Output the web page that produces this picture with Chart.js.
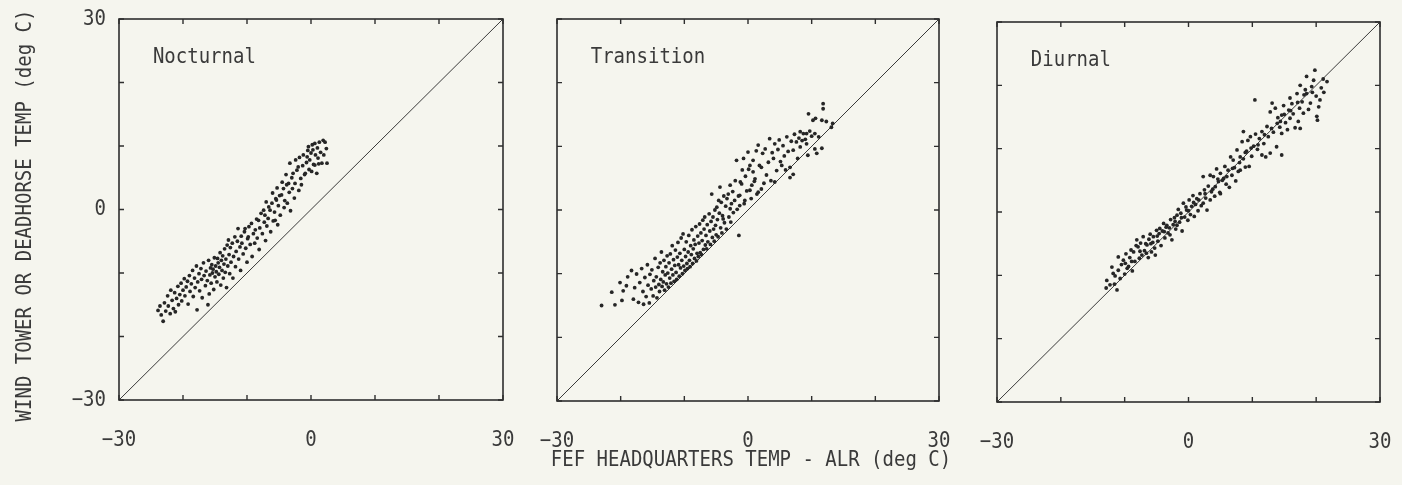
<!DOCTYPE html>
<html>
<head>
<meta charset="utf-8">
<script src="https://cdn.jsdelivr.net/npm/chart.js@4.4.0/dist/chart.umd.min.js"></script>
<style>
  html, body { margin: 0; padding: 0; background: #f5f5ee; }
  #wrap { position: relative; width: 1402px; height: 485px; }
  #wrap canvas { position: absolute; left: 0; top: 0; }
</style>
</head>
<body>
<div id="wrap">
  <canvas id="nocturnal" width="1402" height="485"></canvas>
  <canvas id="transition" width="1402" height="485"></canvas>
  <canvas id="diurnal" width="1402" height="485"></canvas>
</div>
<script>
// axis range, tick marks and the few labelled ticks
const axisMin = -30;
const axisMax = 30;
const tickValues = [-30, -20, -10, 0, 10, 20, 30];
const labelledTicks = [-30, 0, 30];
const tickLabels = ['\u221230', '0', '30'];

const panelNames = ['Nocturnal', 'Transition', 'Diurnal'];
const xTitle = 'FEF HEADQUARTERS TEMP - ALR (deg C)';
const yTitle = 'WIND TOWER OR DEADHORSE TEMP (deg C)';

// [headquarters temp - ALR, wind tower / deadhorse temp]
const nocturnalPts = [
  [-23.9,-15.9],[-23.6,-15.2],[-23.4,-16.6],[-23.1,-17.6],[-22.9,-14.7],[-22.7,-16.0],[-22.4,-13.6],[-22.3,-15.2],
  [-22.0,-16.4],[-21.9,-12.7],[-21.7,-14.3],[-21.5,-15.6],[-21.3,-13.1],[-21.2,-16.1],[-21.0,-14.0],[-20.8,-12.1],
  [-20.7,-15.0],[-20.5,-13.4],[-20.3,-11.6],[-20.2,-14.4],[-20.0,-12.7],
  [-19.8,-10.9],[-19.7,-13.6],[-19.5,-12.2],[-19.3,-11.3],[-19.2,-14.9],[-19.0,-10.4],[-18.9,-12.9],[-18.7,-11.7],
  [-18.5,-9.6],[-18.4,-13.7],[-18.2,-10.8],[-18.1,-12.3],[-17.9,-8.9],[-17.8,-15.8],[-17.7,-11.4],[-17.5,-10.1],
  [-17.4,-12.8],[-17.2,-9.3],[-17.1,-11.0],[-17.0,-13.9],[-16.8,-8.4],[-16.7,-10.4],[-16.5,-12.0],[-16.4,-9.7],
  [-16.2,-11.2],[-16.1,-15.0],[-16.0,-8.0],[-15.9,-13.3],[-15.8,-10.3],
  [-15.7,-9.2],[-15.6,-11.6],[-15.5,-8.7],[-15.4,-10.0],[-15.3,-9.4],[-15.2,-12.6],[-15.1,-7.6],[-15.0,-10.6],
  [-14.9,-8.9],[-14.8,-9.8],[-14.7,-11.4],[-14.6,-7.7],[-14.5,-8.4],[-14.4,-10.2],[-14.3,-9.1],[-14.2,-6.8],
  [-14.1,-11.9],[-14.0,-8.0],[-13.9,-9.6],[-13.8,-7.3],[-13.7,-10.8],[-13.6,-8.6],[-13.5,-6.2],[-13.4,-9.9],
  [-13.3,-7.8],[-13.2,-12.3],[-13.1,-5.6],[-13.0,-8.9],
  [-12.9,-4.8],[-12.8,-7.1],[-12.7,-10.1],[-12.6,-6.0],[-12.5,-8.3],[-12.3,-5.3],[-12.2,-10.8],[-12.1,-7.4],
  [-11.9,-4.3],[-11.8,-9.0],[-11.7,-6.6],[-11.5,-5.0],[-11.4,-3.0],[-11.3,-7.8],[-11.1,-5.9],[-11.0,-9.6],
  [-10.9,-4.2],[-10.8,-5.3],[-10.6,-7.0],[-10.4,-3.5],[-10.3,-3.0],[-10.2,-6.1],[-10.0,-8.3],[-9.9,-4.6],
  [-9.8,-4.3],[-9.7,-2.7],[-9.5,-5.5],[-9.3,-2.2],[-9.2,-7.4],[-9.0,-3.8],
  [-8.8,-5.3],[-8.7,-3.2],[-8.5,-1.5],[-8.4,-4.5],[-8.2,-1.7],[-8.1,-6.3],[-8.0,-2.9],[-7.8,-0.6],
  [-7.6,-3.8],[-7.4,-0.1],[-7.3,-2.0],[-7.2,-0.9],[-7.1,-4.9],[-7.0,1.2],[-6.9,-2.6],[-6.7,-1.4],
  [-6.6,0.4],[-6.4,-0.1],[-6.3,-3.5],[-6.1,1.0],[-6.0,2.6],[-5.9,-1.8],[-5.7,-0.4],[-5.6,-1.7],
  [-5.5,1.7],[-5.4,1.5],[-5.3,3.4],[-5.2,-2.4],[-5.1,0.6],
  [-4.9,2.2],[-4.8,-0.9],[-4.6,2.3],[-4.5,4.3],[-4.3,3.3],[-4.2,0.3],[-4.1,1.4],[-3.9,5.5],
  [-3.8,3.9],[-3.7,1.0],[-3.5,4.1],[-3.4,2.7],[-3.3,7.3],[-3.2,-0.2],[-3.0,5.0],[-2.9,3.3],
  [-2.8,5.7],[-2.6,1.8],[-2.5,4.1],[-2.4,7.8],[-2.2,6.2],[-2.0,6.7],[-1.9,3.0],[-1.8,8.2],
  [-1.6,4.9],[-1.5,3.9],[-1.3,6.9],[-1.2,8.6],[-1.0,5.5],[-0.9,5.7],
  [-0.7,7.4],[-0.6,8.3],[-0.5,9.3],[-0.4,9.9],[-0.3,6.3],[-0.2,7.8],[0.0,8.9],[0.1,6.0],
  [0.2,10.2],[0.3,9.4],[0.4,7.1],[0.6,10.4],[0.6,7.0],[0.7,8.6],[0.9,5.7],[1.0,9.7],
  [1.1,8.1],[1.2,7.2],[1.3,10.6],[1.5,9.0],[1.7,7.3],[1.9,10.9],[2.0,8.6],[2.2,10.6],
  [2.5,7.3],[2.4,9.6]
];

const transitionPts = [
  [-23.0,-15.0],[-20.9,-14.9],[-21.4,-12.9],[-20.1,-11.4],[-19.6,-12.7],[-19.1,-11.9],[-19.8,-14.2],[-18.3,-9.5],
  [-18.9,-10.5],[-17.5,-10.05],[-18.0,-14.0],[-17.2,-14.5],[-16.4,-14.8],[-17.8,-12.2],[-17.0,-11.4],[-16.7,-9.2],
  [-16.5,-12.8],[-16.2,-10.6],[-16.0,-13.6],[-15.8,-8.6],[-15.7,-11.8],[-15.5,-14.6],[-15.4,-10.1],[-15.2,-12.4],
  [-15.1,-9.4],[-14.9,-13.5],[-14.8,-11.1],[-14.6,-7.6],[-14.5,-12.1],[-14.4,-10.5],[-14.3,-13.8],[-14.1,-9.0],
  [-14.0,-11.7],[-13.9,-12.8],[-13.8,-8.3],[-13.7,-10.9],[-13.6,-6.6],[-13.5,-12.0],[-13.4,-9.7],[-13.3,-11.3],
  [-13.2,-7.9],[-13.1,-12.6],[-13.0,-10.2],[-12.9,-8.9],[-12.8,-11.6],[-12.7,-7.2],[-12.6,-9.9],[-12.5,-12.1],
  [-12.4,-8.3],[-12.3,-10.7],[-12.2,-6.9],[-12.1,-11.5],[-12.0,-9.3],[-11.9,-5.6],[-11.8,-10.2],[-11.7,-7.8],
  [-11.6,-11.2],[-11.5,-8.7],[-11.4,-6.3],[-11.3,-9.8],[-11.2,-10.9],[-11.1,-7.4],[-11.0,-5.1],[-10.9,-8.6],
  [-10.8,-10.4],[-10.7,-6.8],[-10.6,-9.1],[-10.5,-4.4],[-10.4,-7.9],[-10.3,-10.0],[-10.2,-3.75],[-10.1,-8.8],
  [-10.0,-6.2],[-9.9,-9.5],[-9.8,-7.3],[-9.7,-5.0],[-9.6,-8.4],[-9.5,-9.2],[-9.4,-6.6],[-9.3,-4.0],
  [-9.2,-7.9],[-9.1,-8.9],[-9.0,-5.6],[-8.9,-7.0],[-8.8,-3.1],[-8.7,-8.4],[-8.6,-6.1],[-8.5,-4.7],
  [-8.4,-7.6],[-8.3,-5.4],[-8.2,-2.6],[-8.1,-8.0],[-8.0,-6.8],[-7.9,-4.1],[-7.8,-7.3],[-7.7,-5.2],
  [-7.6,-2.2],[-7.5,-6.7],[-7.4,-3.6],[-7.3,-7.0],[-7.2,-4.8],[-7.1,-1.6],[-7.0,-6.2],[-6.9,-3.0],
  [-6.8,-1.1],[-6.7,-5.5],[-6.6,-4.0],[-6.5,-6.1],[-6.4,-2.3],[-6.3,-5.0],[-6.1,-0.6],[-6.0,-3.3],
  [-5.9,-5.4],[-5.8,-1.8],[-5.7,2.5],[-5.6,-4.3],[-5.5,-1.1],[-5.4,-3.0],[-5.3,-4.9],[-5.2,0.0],
  [-5.1,-2.4],[-5.0,-3.9],[-4.9,0.45],[-4.8,-1.5],[-4.7,-4.2],[-4.6,1.5],[-4.5,-0.5],[-4.4,3.6],
  [-4.3,-2.8],[-4.2,1.2],[-4.1,-3.6],[-4.0,-0.9],[-3.9,-1.4],[-3.8,2.2],[-3.7,-2.0],[-3.5,0.6],
  [-3.4,-3.0],[-3.3,1.8],[-3.1,2.5],[-3.0,-1.1],[-2.8,3.9],[-2.8,0.2],[-2.7,-1.9],[-2.6,1.0],
  [-2.4,2.9],[-2.3,-0.4],[-2.1,1.5],[-2.0,4.6],[-1.8,7.8],[-1.7,0.1],[-1.5,2.2],[-1.43,-4.0],
  [-1.3,2.3],[-1.3,0.7],[-1.2,4.4],[-1.0,4.1],[-0.9,6.3],[-0.7,8.1],[-0.6,1.0],[-0.5,1.5],
  [-0.4,5.3],[-0.2,3.0],[0.0,9.1],[0.1,6.4],[0.3,3.1],[0.3,7.0],[0.5,1.8],[0.6,3.9],
  [0.8,7.8],[0.8,6.0],[1.0,4.5],[1.1,4.9],[1.3,9.3],[1.4,2.5],[1.6,10.2],[1.6,2.8],
  [1.8,7.0],[2.1,6.7],[2.1,3.3],[2.3,8.9],[2.5,4.2],[2.7,9.6],[2.9,5.5],[3.2,7.5],
  [3.4,11.2],[3.6,4.6],[3.8,9.0],[4.0,8.1],[4.2,10.4],[4.2,4.4],[4.5,6.2],[4.7,9.5],
  [4.9,11.0],[5.1,7.6],[5.3,7.0],[5.5,10.1],[5.7,8.5],[5.9,6.3],[6.1,11.5],[6.3,9.2],
  [6.6,6.7],[6.6,5.1],[6.8,10.8],[7.1,5.6],[7.1,9.4],[7.3,11.9],[7.6,10.7],[7.8,8.1],
  [8.0,11.3],[8.2,12.3],[8.2,9.9],[8.5,10.9],[8.7,12.0],[9.0,11.1],[9.2,12.0],[9.2,10.4],
  [9.4,8.6],[9.5,15.1],[9.7,12.4],[10.0,11.6],[10.2,14.1],[10.5,12.0],[10.5,9.6],[10.6,14.4],
  [10.8,8.9],[11.1,11.5],[11.6,14.1],[11.6,9.7],[11.8,16.7],[11.8,15.9],[12.3,13.9],[13.1,13.0],
  [13.3,13.6]
];

const diurnalPts = [
  [-12.8,-10.8],[-12.3,-11.5],[-12.9,-12.0],[-12.0,-8.7],[-11.8,-9.7],[-11.6,-11.4],[-11.2,-12.3],[-11.0,-9.2],
  [-11.0,-7.1],[-10.7,-10.5],[-10.5,-8.3],[-10.2,-7.6],[-10.0,-9.8],[-9.8,-6.6],[-9.6,-8.9],[-9.4,-8.6],
  [-9.2,-7.2],[-9.0,-6.0],[-8.8,-9.3],[-8.6,-6.3],[-8.4,-7.8],[-8.2,-5.3],[-8.1,-4.4],[-7.9,-5.5],
  [-7.7,-7.3],[-7.5,-4.9],[-7.3,-6.8],[-7.1,-3.9],[-6.9,-6.1],[-6.7,-5.0],[-6.5,-5.2],[-6.3,-7.2],
  [-6.2,-4.3],[-6.0,-3.5],[-5.8,-6.3],[-5.6,-4.8],[-5.5,-3.9],[-5.3,-5.7],[-5.2,-6.8],[-5.0,-2.9],
  [-4.8,-4.6],[-4.6,-3.4],[-4.5,-2.6],[-4.3,-5.3],[-4.1,-3.0],[-3.9,-1.8],[-3.7,-4.1],[-3.5,-2.4],
  [-3.4,-2.1],[-3.2,-3.3],[-2.9,-3.6],[-2.8,-1.2],[-2.6,-4.4],[-2.4,-2.0],[-2.2,-0.9],[-2.0,-2.7],
  [-1.8,-2.1],[-1.8,-0.5],[-1.6,0.4],[-1.4,-1.6],[-1.2,-0.2],[-1.0,-3.0],[-0.8,1.4],[-0.6,-0.8],
  [-0.4,0.8],[-0.3,0.3],[-0.1,-1.3],[0.1,1.9],[0.3,-0.4],[0.5,0.9],[0.7,2.6],[0.9,-0.7],
  [1.1,1.2],[1.3,2.1],[1.5,0.2],[1.8,2.9],[2.0,1.0],[2.3,1.4],[2.3,5.6],[2.5,3.5],
  [2.7,2.2],[2.9,0.3],[3.1,4.1],[3.4,1.9],[3.4,5.8],[3.6,3.2],[3.9,5.6],[4.1,2.5],
  [4.2,4.0],[4.4,6.8],[4.7,4.8],[4.9,3.1],[5.0,6.1],[5.0,2.9],[5.3,5.0],[5.5,5.3],
  [5.7,7.2],[5.9,4.4],[6.2,6.6],[6.4,3.9],[6.6,8.7],[6.8,5.8],[7.0,8.2],[7.2,7.0],
  [7.4,4.9],[7.6,9.8],[7.8,6.4],[8.1,8.7],[8.1,6.6],[8.4,11.1],[8.6,12.7],[8.6,8.4],
  [8.9,7.1],[9.1,9.6],[9.3,11.3],[9.5,7.2],[9.7,11.9],[9.9,8.8],[10.2,10.4],[10.4,17.7],
  [10.5,12.3],[10.8,9.9],[11.1,11.6],[11.5,12.7],[11.5,9.0],[11.8,10.8],[12.1,8.7],[12.3,13.5],
  [12.5,11.9],[12.8,15.8],[12.8,9.3],[13.1,17.2],[13.3,12.6],[13.6,16.4],[13.8,10.3],[14.0,14.9],
  [14.3,13.4],[14.4,14.3],[14.6,15.3],[14.6,12.4],[14.6,9.0],[14.9,16.8],[15.2,14.1],[15.5,13.0],
  [15.7,16.1],[15.9,18.0],[15.9,14.8],[16.2,17.1],[16.4,15.5],[16.7,13.3],[17.0,18.7],[17.2,14.3],
  [17.4,16.4],[17.5,20.0],[17.5,13.2],[17.8,17.4],[18.0,15.6],[18.3,19.3],[18.5,21.4],[18.5,18.7],
  [18.8,16.2],[19.1,17.2],[19.3,19.8],[19.6,20.8],[19.8,22.4],[20.0,18.3],[20.1,15.1],[20.2,14.5],
  [20.4,16.6],[20.6,17.7],[20.8,19.6],[21.1,21.0],[21.7,20.6],[21.2,18.9],
  [-7.6,-6.2],[-6.6,-6.5],[-5.9,-5.0],[-4.9,-3.8],[-3.8,-3.1],[-3.0,-2.5],[-2.1,-1.5],[-1.1,-0.9],
  [0.0,0.2],[0.8,1.5],[1.6,1.9],[2.6,2.9],[3.8,3.6],[4.6,5.2],[6.0,5.6],[6.9,6.9],
  [8.0,7.8],[8.9,9.4],[9.8,10.1],[10.9,10.6],[11.9,12.2],[13.0,13.2],[13.9,14.0],[15.0,15.4],
  [16.0,16.0],[17.1,17.3],[18.1,18.5],[19.4,18.9],[-9.9,-8.1],[-8.9,-7.8],[-11.5,-10.1]
];

const ink = '#2e2e2e';
const textInk = '#3a3a3a';
const font = '19px "DejaVu Sans Mono", monospace';

// plotter lettering is tall and narrow, so stretch glyphs a little vertically
const drawText = (ctx, text, x, y) => {
  ctx.save();
  ctx.translate(x, y);
  ctx.scale(1, 1.12);
  ctx.fillText(text, 0, 0);
  ctx.restore();
};

// frame with inward ticks on all four sides, tick labels and panel name
const frameAndTicks = {
  id: 'frameAndTicks',
  afterDatasetsDraw(chart, args, opts) {
    const { ctx, chartArea: a, scales: { x, y } } = chart;
    ctx.save();
    ctx.strokeStyle = ink;
    ctx.lineWidth = 1.6;
    ctx.strokeRect(a.left, a.top, a.right - a.left, a.bottom - a.top);

    ctx.lineWidth = 1.4;
    ctx.beginPath();
    tickValues.forEach(v => {
      const px = x.getPixelForValue(v);
      const py = y.getPixelForValue(v);
      ctx.moveTo(px, a.bottom); ctx.lineTo(px, a.bottom - 5);
      ctx.moveTo(px, a.top); ctx.lineTo(px, a.top + 5);
      ctx.moveTo(a.left, py); ctx.lineTo(a.left + 5, py);
      ctx.moveTo(a.right, py); ctx.lineTo(a.right - 5, py);
    });
    ctx.stroke();

    ctx.fillStyle = textInk;
    ctx.font = font;
    ctx.textBaseline = 'middle';
    ctx.textAlign = 'center';
    labelledTicks.forEach((v, i) => {
      drawText(ctx, tickLabels[i], x.getPixelForValue(v), a.bottom + 40);
    });

    if (opts.yLabels) {
      ctx.textAlign = 'right';
      labelledTicks.forEach((v, i) => {
        drawText(ctx, tickLabels[i], a.left - 13, y.getPixelForValue(v));
      });
      ctx.save();
      ctx.translate(25, (a.top + a.bottom) / 2 + 6);
      ctx.rotate(-Math.PI / 2);
      ctx.textAlign = 'center';
      drawText(ctx, yTitle, 0, 0);
      ctx.restore();
    }

    if (opts.xTitle) {
      ctx.textAlign = 'center';
      drawText(ctx, xTitle, (a.left + a.right) / 2 + 3, a.bottom + 59);
    }

    ctx.textAlign = 'left';
    drawText(ctx, opts.name, x.getPixelForValue(-24.7), y.getPixelForValue(24));
    ctx.restore();
  }
};

const makePanel = (id, name, points, padding, extra) => new Chart(document.getElementById(id), {
  type: 'scatter',
  data: {
    datasets: [
      {
        data: points.map(([x, y]) => ({ x, y })),
        pointRadius: 1.9,
        pointBackgroundColor: '#262626',
        pointBorderWidth: 0
      },
      {
        type: 'line',
        data: [{ x: axisMin, y: axisMin }, { x: axisMax, y: axisMax }],
        borderColor: '#3a3a3a',
        borderWidth: 1,
        pointRadius: 0
      }
    ]
  },
  options: {
    responsive: false,
    animation: false,
    events: [],
    layout: { padding },
    plugins: {
      legend: { display: false },
      tooltip: { enabled: false },
      frameAndTicks: Object.assign({ name }, extra)
    },
    scales: {
      x: { type: 'linear', min: axisMin, max: axisMax, display: false },
      y: { type: 'linear', min: axisMin, max: axisMax, display: false }
    }
  },
  plugins: [frameAndTicks]
});

makePanel('nocturnal', panelNames[0], nocturnalPts, { left: 119, top: 19, right: 899, bottom: 85 }, { yLabels: true });
makePanel('transition', panelNames[1], transitionPts, { left: 557, top: 19, right: 463, bottom: 84 }, { xTitle: true });
makePanel('diurnal', panelNames[2], diurnalPts, { left: 997, top: 22, right: 22, bottom: 83 }, {});
</script>
</body>
</html>
